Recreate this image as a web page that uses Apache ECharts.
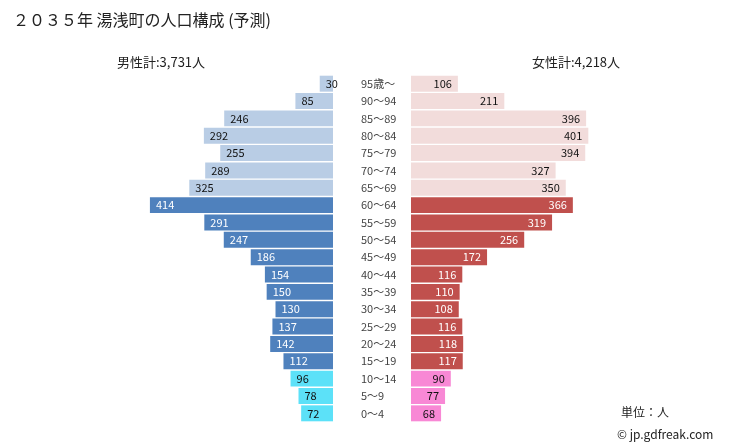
<!DOCTYPE html>
<html>
<head>
<meta charset="utf-8">
<script src="https://cdn.jsdelivr.net/npm/echarts@6/dist/echarts.min.js"></script>
<style>
  html, body { margin: 0; padding: 0; background: #fff; }
  #chart { width: 729px; height: 446px; }
</style>
</head>
<body>
<div id="chart"></div>
<script>
// 年齢階級（上から順）
const ages = ['95歳～', '90～94', '85～89', '80～84', '75～79', '70～74', '65～69',
  '60～64', '55～59', '50～54', '45～49', '40～44', '35～39', '30～34', '25～29',
  '20～24', '15～19', '10～14', '5～9', '0～4'];
const male = [30, 85, 246, 292, 255, 289, 325, 414, 291, 247, 186, 154, 150, 130, 137, 142, 112, 96, 78, 72];
const female = [106, 211, 396, 401, 394, 327, 350, 366, 319, 256, 172, 116, 110, 108, 116, 118, 117, 90, 77, 68];

const maleColors = ['#b9cde5', '#4f81bd', '#5ce1f8'];
const femaleColors = ['#f2dcdb', '#c0504d', '#f888d5'];

// 0: 65歳以上, 1: 15～64, 2: 0～14
const group = i => (i < 7 ? 0 : i < 17 ? 1 : 2);

const font = '"Noto Sans CJK JP", sans-serif';

const chart = echarts.init(document.getElementById('chart'));

const barData = (vals, colors) => vals.map((v, i) => ({
  value: v,
  itemStyle: { color: colors[group(i)] },
  label: { color: group(i) === 1 ? '#fff' : '#111' }
}));

chart.setOption({
  animation: false,
  textStyle: { fontFamily: font },
  title: [
    { text: '２０３５年 湯浅町の人口構成 (予測)', left: 8, top: 7,
      textStyle: { fontSize: 16, fontWeight: 'normal', color: '#222', fontFamily: font } },
    { text: '男性計:3,731人', left: 112, top: 51,
      textStyle: { fontSize: 13, fontWeight: 'normal', color: '#222', fontFamily: font } },
    { text: '女性計:4,218人', left: 527, top: 51,
      textStyle: { fontSize: 13, fontWeight: 'normal', color: '#222', fontFamily: font } },
    { text: '単位：人', left: 616, top: 401,
      textStyle: { fontSize: 12, fontWeight: 'normal', color: '#222', fontFamily: font } },
    { text: '© jp.gdfreak.com', left: 612, top: 423,
      textStyle: { fontSize: 12, fontWeight: 'normal', color: '#222', fontFamily: font } }
  ],
  grid: [
    { left: 134, width: 199, top: 75, height: 347 },
    { left: 411, width: 199, top: 75, height: 347 }
  ],
  xAxis: [
    { gridIndex: 0, type: 'value', min: 0, max: 450, inverse: true, show: false },
    { gridIndex: 1, type: 'value', min: 0, max: 450, show: false }
  ],
  yAxis: [
    { gridIndex: 0, type: 'category', data: ages, inverse: true, show: false },
    { gridIndex: 1, type: 'category', data: ages, inverse: true,
      axisLine: { show: false }, axisTick: { show: false },
      axisLabel: { align: 'left', margin: 50, fontSize: 11, color: '#444', fontFamily: font } }
  ],
  series: [
    {
      type: 'bar', xAxisIndex: 0, yAxisIndex: 0, barCategoryGap: '8%',
      data: barData(male, maleColors),
      label: { show: true, position: 'insideLeft', distance: 6, fontSize: 11, fontFamily: font }
    },
    {
      type: 'bar', xAxisIndex: 1, yAxisIndex: 1, barCategoryGap: '8%',
      data: barData(female, femaleColors),
      label: { show: true, position: 'insideRight', distance: 6, fontSize: 11, fontFamily: font }
    }
  ]
});
</script>
</body>
</html>
